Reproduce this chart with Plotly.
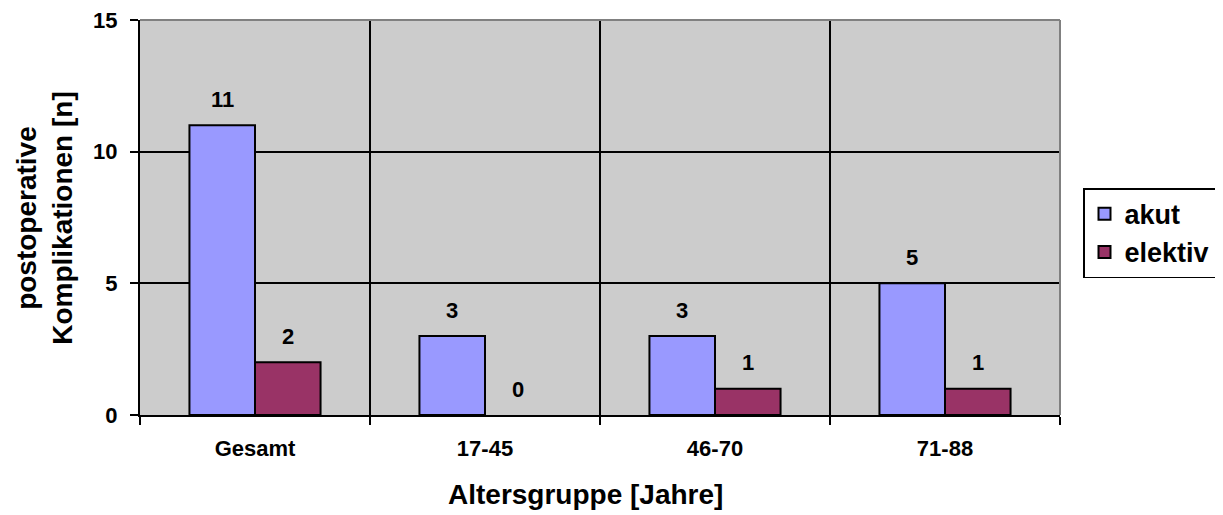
import plotly.graph_objects as go

categories = ["Gesamt", "17-45", "46-70", "71-88"]
akut = [11, 3, 3, 5]
elektiv = [2, 0, 1, 1]
y_ticks = [0, 5, 10, 15]

FONT = "Liberation Sans, Arial, sans-serif"

fig = go.Figure()
fig.add_trace(go.Bar(name="akut", x=categories, y=akut,
                     marker=dict(color="#9999FF",
                                 line=dict(color="black", width=[2 if v else 0 for v in akut]))))
fig.add_trace(go.Bar(name="elektiv", x=categories, y=elektiv,
                     marker=dict(color="#993366",
                                 line=dict(color="black", width=[2 if v else 0 for v in elektiv]))))

annotations = []
for series, shift in ((akut, -33), (elektiv, 33)):
    for c, v in zip(categories, series):
        annotations.append(dict(x=c, y=v, xref="x", yref="y", text=str(v), showarrow=False,
                                xshift=shift, yshift=26, yanchor="middle",
                                font=dict(family=FONT, size=22, color="black", weight="bold")))

annotations.append(dict(x=-0.104, y=0.5, xref="paper", yref="paper",
                        text="postoperative<br>Komplikationen [n]", textangle=-90,
                        showarrow=False, xanchor="center", yanchor="middle",
                        font=dict(family=FONT, size=28, color="black", weight="bold")))
annotations.append(dict(x=0.484, y=-0.2, xref="paper", yref="paper",
                        text="Altersgruppe [Jahre]", showarrow=False,
                        xanchor="center", yanchor="middle",
                        font=dict(family=FONT, size=28, color="black", weight="bold")))

fig.update_layout(
    width=1215, height=507,
    margin=dict(l=132, r=163, t=12, b=100, autoexpand=False),
    paper_bgcolor="white",
    plot_bgcolor="#CCCCCC",
    barmode="group",
    bargap=0.43,
    bargroupgap=0,
    font=dict(family=FONT, color="black"),
    annotations=annotations,
    legend=dict(x=1.025, y=0.46, xanchor="left", yanchor="middle",
                bgcolor="white", bordercolor="black", borderwidth=1.5,
                font=dict(family=FONT, size=27, color="black", weight="bold"),
                itemwidth=30, tracegroupgap=2),
    shapes=[dict(type="line", xref="paper", yref="paper", x0=0, x1=1, y0=1, y1=1,
                 line=dict(color="#808080", width=2)),
            dict(type="line", xref="paper", yref="paper", x0=1, x1=1, y0=0, y1=1,
                 line=dict(color="#808080", width=2))],
)
fig.update_xaxes(
    automargin=False,
    tickson="boundaries", ticks="outside", ticklen=8, tickwidth=2, tickcolor="black",
    showgrid=True, gridcolor="black", gridwidth=2,
    showline=True, linecolor="black", linewidth=2,
    tickfont=dict(family=FONT, size=22, color="black", weight="bold"),
    ticklabelstandoff=13,
)
fig.update_yaxes(
    automargin=False, ticklabeloverflow="allow",
    range=[0, 15], tickvals=y_ticks, ticks="outside", ticklen=8, tickwidth=2, tickcolor="black",
    showgrid=True, gridcolor="black", gridwidth=2, zeroline=False,
    showline=True, linecolor="black", linewidth=2,
    tickfont=dict(family=FONT, size=22, color="black", weight="bold"),
    ticklabelstandoff=8,
)

fig.write_html("out.html")
